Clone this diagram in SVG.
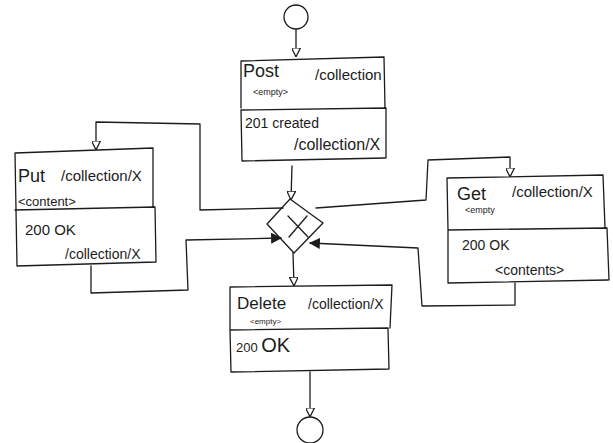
<svg xmlns="http://www.w3.org/2000/svg" width="613" height="443" viewBox="0 0 613 443">
  <style>
    .ln { fill: none; stroke: #1c1c1c; stroke-width: 1.3; stroke-linecap: round; stroke-linejoin: round; }
    .t { font-family: "Liberation Sans", "DejaVu Sans", sans-serif; fill: #1c1c1c; }
    .big { font-size: 18px; }
    .mid { font-size: 14px; }
    .path { font-size: 15px; }
    .sm { font-size: 9px; }
  </style>
  <defs>
    <marker id="open" viewBox="0 0 10 10" refX="9" refY="5" markerWidth="9" markerHeight="9" markerUnits="userSpaceOnUse" orient="auto">
      <path d="M0,0 L10,5 L0,10 Z" fill="#fff" stroke="#1c1c1c" stroke-width="1.4"/>
    </marker>
    <marker id="solid" viewBox="0 0 10 10" refX="9" refY="5" markerWidth="11" markerHeight="11" markerUnits="userSpaceOnUse" orient="auto">
      <path d="M0,0 L10,5 L0,10 Z" fill="#1c1c1c"/>
    </marker>
  </defs>
  <rect width="613" height="443" fill="#ffffff"/>

  <!-- start and end events -->
  <g id="start">
    <circle class="ln" cx="296" cy="17" r="12"/>
  </g>
  <g id="end">
    <circle class="ln" cx="310" cy="430" r="13"/>
  </g>

  <!-- POST /collection -->
  <g id="post">
    <path class="ln" d="M241,61 L384,57 L385,108 M241,61 L241,108 M241,110 L386,108 L386,158 M241,110 L242,161 L385,158"/>
    <text class="t big" x="243" y="77">Post</text>
    <text class="t path" x="315" y="80">/collection</text>
    <text class="t sm" x="253" y="95">&lt;empty&gt;</text>
    <text class="t mid" x="245" y="128">201 created</text>
    <text class="t" font-size="16" x="294" y="150">/collection/X</text>
  </g>

  <!-- PUT /collection/X -->
  <g id="put">
    <path class="ln" d="M15,153 L153,148 L153,207 M15,153 L16,210 M15,210 L155,207 L156,262 M16,210 L17,266 L156,262"/>
    <text class="t big" x="18" y="182">Put</text>
    <text class="t path" x="61" y="181">/collection/X</text>
    <text class="t" font-size="13" x="18" y="206">&lt;content&gt;</text>
    <text class="t" font-size="15" x="25" y="235">200 OK</text>
    <text class="t mid" x="65" y="259">/collection/X</text>
  </g>

  <!-- GET /collection/X -->
  <g id="get">
    <path class="ln" d="M447,178 L603,175 L605,228 M447,178 L448,230 M448,230 L607,228 L609,280 M448,230 L448,283 L608,280"/>
    <text class="t big" x="457" y="200">Get</text>
    <text class="t path" x="512" y="197">/collection/X</text>
    <text class="t sm" x="465" y="213">&lt;empty</text>
    <text class="t mid" x="462" y="250">200 OK</text>
    <text class="t mid" x="495" y="275">&lt;contents&gt;</text>
  </g>

  <!-- DELETE /collection/X -->
  <g id="delete">
    <path class="ln" d="M230,287 L392,285 L390,328 M230,287 L230,330 M230,330 L388,328 L389,369 M230,330 L231,372 L389,369"/>
    <text class="t" font-size="17" x="237" y="309">Delete</text>
    <text class="t mid" x="308" y="309">/collection/X</text>
    <text class="t" font-size="8" x="250" y="324">&lt;empty&gt;</text>
    <text class="t" x="236" y="352"><tspan font-size="13">200 </tspan><tspan font-size="20">OK</tspan></text>
  </g>

  <!-- exclusive gateway -->
  <g id="gateway">
    <path class="ln" d="M290,199 L323,223 L294,253 L267,224 Z" fill="#fff"/>
    <path class="ln" d="M288,216 L308,237 M307,216 L289,237"/>
  </g>

  <!-- flows -->
  <g id="connectors">
    <path class="ln" d="M296,30 L296,56" marker-end="url(#open)"/>
    <path class="ln" d="M292,166 L291,199" marker-end="url(#open)"/>
    <path class="ln" d="M283,208 L200,210 L200,124 L96,122 L96,149" marker-end="url(#open)"/>
    <path class="ln" d="M316,208 L426,200 L428,160 L510,157 L510,176" marker-end="url(#open)"/>
    <path class="ln" d="M91,266 L91,293 L188,290 L186,240 L281,238" marker-end="url(#solid)"/>
    <path class="ln" d="M515,283 L515,305 L422,306 L418,248 L310,243" marker-end="url(#solid)"/>
    <path class="ln" d="M293,253 L294,285" marker-end="url(#open)"/>
    <path class="ln" d="M310,372 L310,416" marker-end="url(#open)"/>
  </g>
</svg>
